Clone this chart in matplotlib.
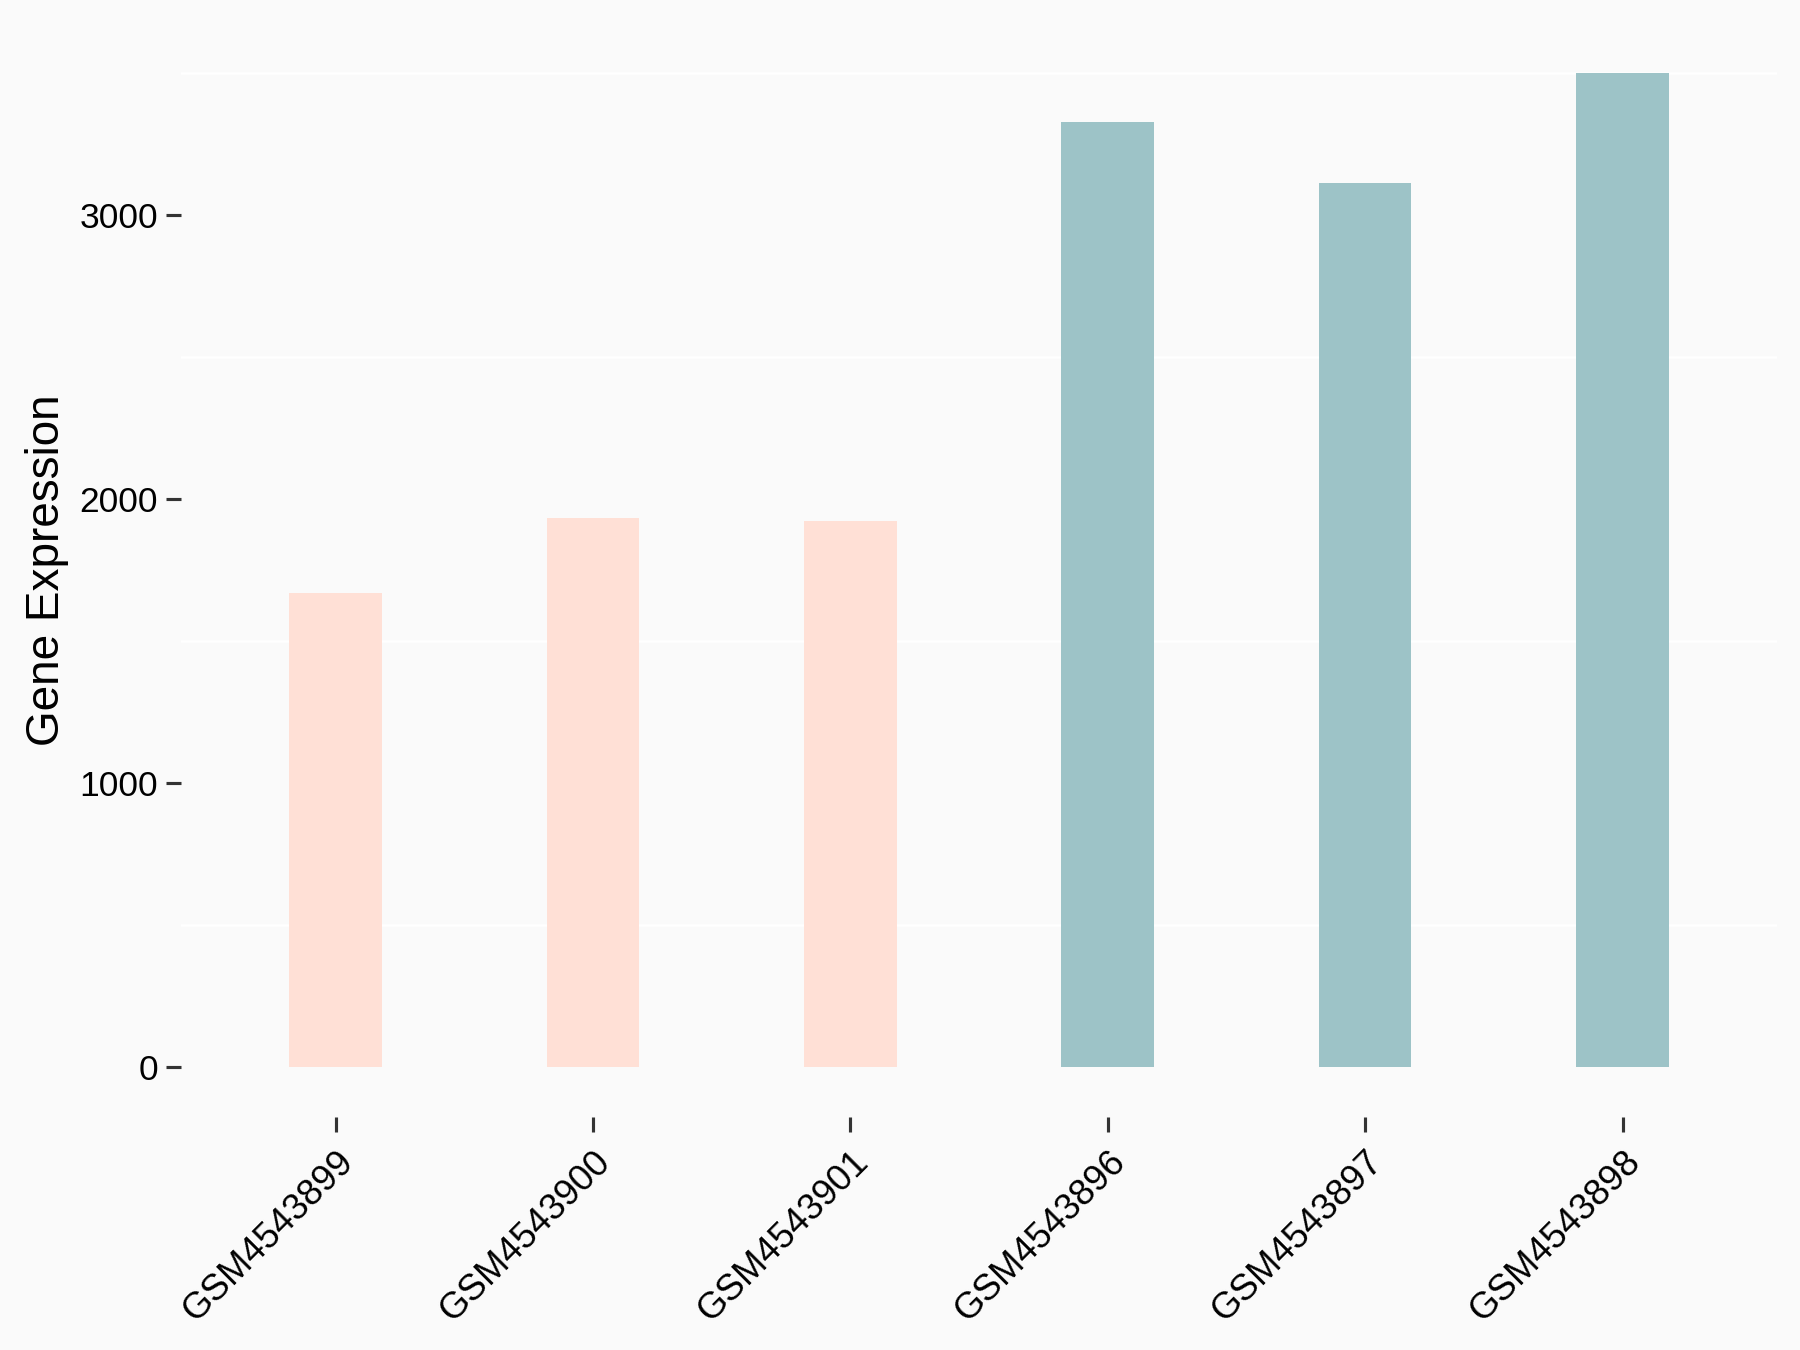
import matplotlib
matplotlib.use("Agg")
import matplotlib.pyplot as plt
import matplotlib.transforms as mtransforms

# sample names and expression values
samples = ["GSM4543899", "GSM4543900", "GSM4543901", "GSM4543896", "GSM4543897", "GSM4543898"]
expression = [1668, 1934, 1922, 3326, 3111, 3500]
groups = ["A", "A", "A", "B", "B", "B"]
group_colors = {"A": "#FFE0D6", "B": "#9DC3C7"}
y_ticks = [0, 1000, 2000, 3000]
grid_lines = [500, 1500, 2500, 3500]

plt.rcParams["font.family"] = ["Liberation Sans", "DejaVu Sans"]

fig = plt.figure(figsize=(12, 9), dpi=150, facecolor="#FAFAFA")
ax = fig.add_axes([0.1006, 0.1726, 0.8866, 0.8104])
ax.set_facecolor("#FAFAFA")

x = list(range(len(samples)))
for yv in grid_lines:
    ax.axhline(yv, color="white", lw=1.2, zorder=0)

ax.bar(x, expression, width=0.36, color=[group_colors[g] for g in groups], zorder=2)

ymax = max(expression)
ax.set_xlim(-0.6, len(samples) - 0.4)
ax.set_ylim(-0.05 * ymax, 1.05 * ymax)

ax.set_yticks(y_ticks)
ax.set_yticklabels([str(v) for v in y_ticks], fontsize=17)
ax.set_xticks(x)
ax.set_xticklabels(samples, fontsize=17.5, rotation=45, ha="right", va="top",
                   rotation_mode="anchor")
offset = mtransforms.ScaledTranslation(13 / 150, -1 / 150, fig.dpi_scale_trans)
for lbl in ax.get_xticklabels():
    lbl.set_transform(lbl.get_transform() + offset)

ax.tick_params(axis="both", color="#333333", length=7, width=1.5, direction="out")
ax.tick_params(axis="y", pad=4)
ax.tick_params(axis="x", pad=6)

for s in ax.spines.values():
    s.set_visible(False)

ax.set_ylabel("Gene Expression", fontsize=22, labelpad=5)

fig.savefig("out.png", dpi=150, facecolor=fig.get_facecolor())
